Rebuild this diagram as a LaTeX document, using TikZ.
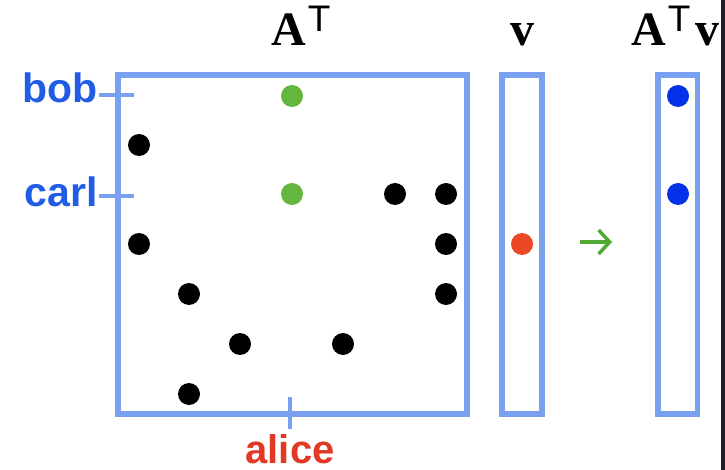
\documentclass[tikz,border=0pt]{standalone}
\usepackage{fontspec}
\setmainfont{Liberation Serif}
\newfontfamily\lsans{Liberation Sans}
\usetikzlibrary{arrows.meta}
\definecolor{boxblue}{RGB}{122,160,240}
\definecolor{labelblue}{RGB}{32,92,228}
\definecolor{dotblue}{RGB}{5,50,232}
\definecolor{dotgreen}{RGB}{100,182,62}
\definecolor{dotred}{RGB}{236,72,36}
\definecolor{labelred}{RGB}{226,56,36}
\definecolor{arrowgreen}{RGB}{82,170,52}
\definecolor{strip}{RGB}{28,28,46}
\tikzset{
  vecbox/.style={draw=boxblue, line width=5.5pt},
  tickline/.style={draw=boxblue, line width=4.5pt},
  dotnode/.style={circle, inner sep=0pt, minimum size=22pt},
  blk/.style={dotnode, fill=black},
  grn/.style={dotnode, fill=dotgreen},
  rd/.style={dotnode, fill=dotred},
  blu/.style={dotnode, fill=dotblue},
  sidelabel/.style={inner sep=0pt, text=labelblue, font=\lsans\bfseries\fontsize{41}{41}\selectfont},
  toplabel/.style={inner sep=0pt, font=\bfseries\fontsize{48}{48}\selectfont},
}
\newcommand{\supT}{\kern2pt\raisebox{14pt}{\normalfont\lsans\fontsize{37}{37}\selectfont T}}
\begin{document}
\begin{tikzpicture}[x=1pt,y=-1pt]
\fill[white] (0,0) rectangle (725,470);
\useasboundingbox (0,0) rectangle (725,470);
\fill[strip] (721,0) rectangle (725,470);
% boxes
\node[vecbox, inner sep=0pt, minimum width=349pt, minimum height=339pt] (A) at (292.5,244.5) {};
\node[vecbox, inner sep=0pt, minimum width=40pt, minimum height=339pt] (v) at (522,244.5) {};
\node[vecbox, inner sep=0pt, minimum width=39.5pt, minimum height=339pt] (Av) at (677.75,244.5) {};
% top labels
\node[toplabel, anchor=base west] (tA) at (271,46) {A\supT};
\node[toplabel, anchor=base] (tv) at (522,46) {v};
\node[toplabel, anchor=base west] (tAv) at (631,46) {A\supT\kern5pt v};
% side labels
\node[sidelabel, anchor=base east] (bob) at (98,103) {bob};
\node[sidelabel, anchor=base east] (carl) at (98,207) {carl};
\node[inner sep=0pt, text=labelred, font=\lsans\bfseries\fontsize{40}{40}\selectfont, anchor=base] (alice) at (290,463) {alice};
% ticks
\coordinate (bobR) at (134,95);
\coordinate (carlR) at (134,196);
\coordinate (aliceT) at (290,397);
\draw[tickline] (bob.east |- bobR) ++(1,0) -- (bobR);
\draw[tickline] (carl.east |- carlR) ++(1,0) -- (carlR);
\draw[tickline] (aliceT) -- (alice.north |- 0,429);
% dots in A^T
\node[grn] (g1) at (292,96) {};
\node[grn] (g2) at (292,194) {};
\node[blk] (b1) at (139,145) {};
\node[blk] (b2) at (395,194) {};
\node[blk] (b3) at (446,194) {};
\node[blk] (b4) at (139,244) {};
\node[blk] (b5) at (446,244) {};
\node[blk] (b6) at (189,294) {};
\node[blk] (b7) at (446,294) {};
\node[blk] (b8) at (240,344) {};
\node[blk] (b9) at (343,344) {};
\node[blk] (b10) at (189,394) {};
% v
\node[rd] (r1) at (522,244) {};
% result
\node[blu] (u1) at (678,96) {};
\node[blu] (u2) at (678,194) {};
% arrow
\coordinate (arrS) at (580,242);
\coordinate (arrE) at (612,242);
\draw[arrowgreen, line width=3.5pt, -{Straight Barb[length=11pt,width=24pt,line width=3.5pt]}] (arrS) -- (arrE);
\end{tikzpicture}
\end{document}
